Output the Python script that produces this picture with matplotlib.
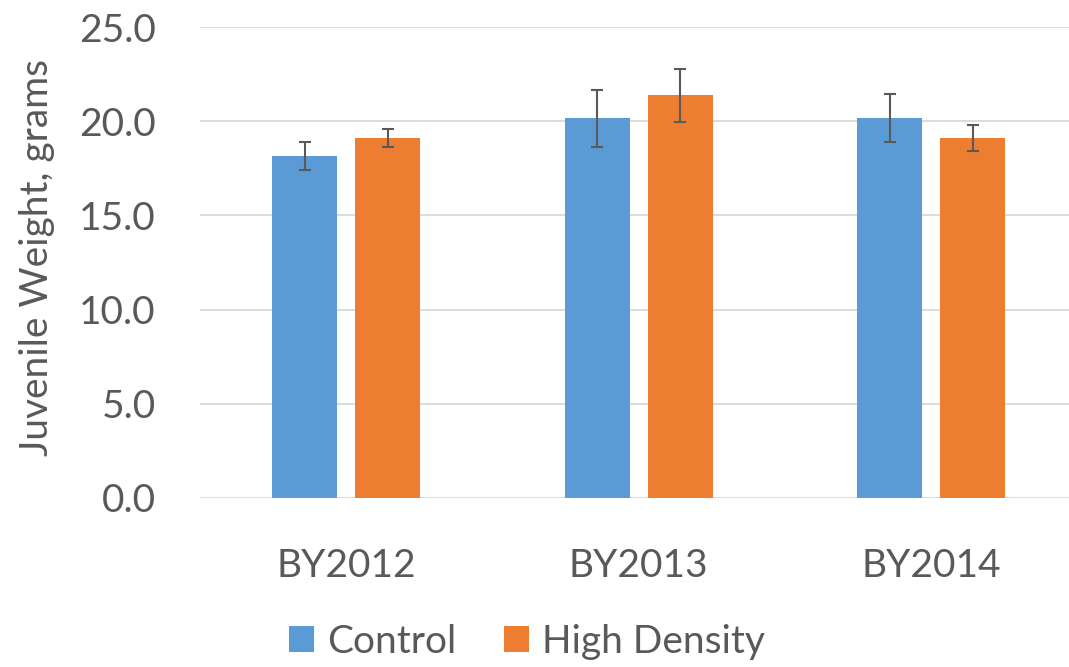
import matplotlib
matplotlib.use("Agg")
import matplotlib.pyplot as plt
import numpy as np

categories = ["BY2012", "BY2013", "BY2014"]
control = [18.15, 20.15, 20.18]
control_err = [0.76, 1.52, 1.29]
high_density = [19.1, 21.37, 19.1]
high_density_err = [0.49, 1.4, 0.7]
series_names = ["Control", "High Density"]
yticks = [0, 5, 10, 15, 20, 25]

plt.rcParams['font.family'] = ['Lato', 'DejaVu Sans']
TXT = '#595959'
fig = plt.figure(figsize=(10.69, 6.67), dpi=100)
W, H = 1069, 667
ax = fig.add_axes([200 / W, 1 - 498 / H, (1069 - 200) / W, (498 - 27) / H])

x = np.arange(len(categories))
bw = 0.222
off = 0.142
ekw = dict(ecolor='#595959', elinewidth=1.5, capsize=4.5, capthick=1.5)
ax.bar(x - off, control, bw, color='#5B9BD5', label=series_names[0],
       yerr=control_err, error_kw=ekw, zorder=3)
ax.bar(x + off, high_density, bw, color='#ED7D31', label=series_names[1],
       yerr=high_density_err, error_kw=ekw, zorder=3)

ax.set_ylim(0, 25)
ax.set_xlim(-0.5, (1069 - 200) / 292.5 - 0.5)
ax.set_yticks(yticks)
ax.set_yticklabels([f"{v:.1f}" for v in yticks])
ax.set_xticks(x)
ax.set_xticklabels(categories)
ax.grid(axis='y', color='#D9D9D9', linewidth=1.3, zorder=0)
ax.set_axisbelow(True)
for s in ax.spines.values():
    s.set_visible(False)
ax.tick_params(axis='both', length=0, labelsize=28, colors=TXT)
ax.tick_params(axis='y', pad=32)
ax.tick_params(axis='x', pad=36)
ax.set_ylabel("Juvenile Weight, grams", fontsize=28, color=TXT)
ax.yaxis.set_label_coords(-0.167, 0.51)

leg = fig.legend(loc='center', bbox_to_anchor=(527 / W, 1 - 642 / H), ncol=2,
                 frameon=False, fontsize=28, handlelength=0.65, handleheight=0.65,
                 columnspacing=1.2, handletextpad=0.35)
for t in leg.get_texts():
    t.set_color(TXT)

fig.savefig("out.png", dpi=100)
